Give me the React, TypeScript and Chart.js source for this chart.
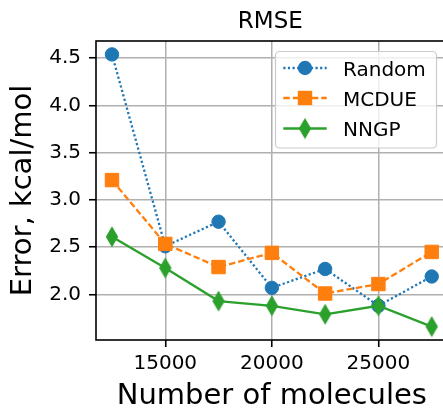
import React, { useEffect, useRef } from 'react';
import { Chart, registerables } from 'chart.js';

Chart.register(...registerables);

// ---- data ----
const xValues = [12500, 15000, 17500, 20000, 22500, 25000, 27500];
const randomErr = [4.54, 2.51, 2.77, 2.07, 2.27, 1.88, 2.19];
const mcdueErr = [3.21, 2.535, 2.29, 2.44, 2.01, 2.11, 2.45];
const nngpErr = [2.61, 2.28, 1.93, 1.88, 1.79, 1.88, 1.66];
const xTicks = [15000, 20000, 25000];
const yTicks = [2.0, 2.5, 3.0, 3.5, 4.0, 4.5];
const seriesNames = ['Random', 'MCDUE', 'NNGP'];
const titleText = 'RMSE';
const xLabel = 'Number of molecules';
const yLabel = 'Error, kcal/mol';

const FONT = '"DejaVu Sans", sans-serif';
const BLUE = '#1f77b4';
const ORANGE = '#ff7f0e';
const GREEN = '#2ca02c';
const LW = 2.3;
const DOT = [2.2, 2.4];
const DASH = [6.5, 3];

function makeDiamond(color: string): HTMLCanvasElement {
  const c = document.createElement('canvas');
  c.width = 14;
  c.height = 22;
  const g = c.getContext('2d')!;
  g.fillStyle = color;
  g.beginPath();
  g.moveTo(7, 0.5);
  g.lineTo(13.2, 11);
  g.lineTo(7, 21.5);
  g.lineTo(0.8, 11);
  g.closePath();
  g.fill();
  return c;
}

export default function App() {
  const ref = useRef<HTMLCanvasElement | null>(null);

  useEffect(() => {
    const canvas = ref.current;
    if (!canvas) return;
    const diamond = makeDiamond(GREEN);

    const legendStyles = [
      { color: BLUE, dash: DOT, marker: 'circle' },
      { color: ORANGE, dash: DASH, marker: 'square' },
      { color: GREEN, dash: [], marker: 'diamond' },
    ];

    const decor = {
      id: 'decor',
      afterDatasetsDraw(chart: any) {
        const { ctx, chartArea: a } = chart;
        ctx.save();
        ctx.strokeStyle = '#000';
        ctx.lineWidth = 1.6;
        ctx.strokeRect(a.left, a.top, a.right - a.left, a.bottom - a.top);
        ctx.restore();
      },
      afterDraw(chart: any) {
        const { ctx, chartArea: a } = chart;
        ctx.save();
        // title
        ctx.fillStyle = '#000';
        ctx.font = `23px ${FONT}`;
        ctx.textAlign = 'center';
        ctx.textBaseline = 'alphabetic';
        ctx.fillText(titleText, (a.left + a.right) / 2 - 1.5, 27.5);

        // legend box
        const bx = 275.5, by = 51.5, bw = 161, bh = 96.5, r = 4;
        ctx.beginPath();
        ctx.moveTo(bx + r, by);
        ctx.lineTo(bx + bw - r, by);
        ctx.arcTo(bx + bw, by, bx + bw, by + r, r);
        ctx.lineTo(bx + bw, by + bh - r);
        ctx.arcTo(bx + bw, by + bh, bx + bw - r, by + bh, r);
        ctx.lineTo(bx + r, by + bh);
        ctx.arcTo(bx, by + bh, bx, by + bh - r, r);
        ctx.lineTo(bx, by + r);
        ctx.arcTo(bx, by, bx + r, by, r);
        ctx.closePath();
        ctx.fillStyle = 'rgba(255,255,255,0.8)';
        ctx.fill();
        ctx.strokeStyle = '#cccccc';
        ctx.lineWidth = 1.2;
        ctx.stroke();

        const rows = [68, 98, 128.5];
        seriesNames.forEach((name, i) => {
          const s = legendStyles[i];
          const y = rows[i];
          ctx.strokeStyle = s.color;
          ctx.lineWidth = LW;
          ctx.setLineDash(s.dash);
          ctx.beginPath();
          ctx.moveTo(283.3, y);
          ctx.lineTo(326.7, y);
          ctx.stroke();
          ctx.setLineDash([]);
          const mx = 305;
          ctx.fillStyle = s.color;
          if (s.marker === 'circle') {
            ctx.beginPath();
            ctx.arc(mx, y, 7.2, 0, Math.PI * 2);
            ctx.fill();
          } else if (s.marker === 'square') {
            ctx.fillRect(mx - 7.2, y - 7.2, 14.4, 14.4);
          } else {
            ctx.drawImage(diamond, mx - 7, y - 11);
          }
          ctx.fillStyle = '#000';
          ctx.font = `20px ${FONT}`;
          ctx.textAlign = 'left';
          ctx.textBaseline = 'alphabetic';
          ctx.fillText(name, 343, y + 7.5);
        });
        ctx.restore();
      },
    };

    const mk = (vals: number[]) => xValues.map((x, i) => ({ x, y: vals[i] }));

    const chart = new Chart(canvas, {
      type: 'line',
      data: {
        datasets: [
          {
            label: seriesNames[0],
            data: mk(randomErr),
            borderColor: BLUE,
            backgroundColor: BLUE,
            borderWidth: LW,
            borderDash: DOT,
            pointStyle: 'circle',
            pointRadius: 6.7,
            pointBorderWidth: 1,
            pointBorderColor: BLUE,
            pointBackgroundColor: BLUE,
            order: 3,
            clip: false as any,
          },
          {
            label: seriesNames[1],
            data: mk(mcdueErr),
            borderColor: ORANGE,
            backgroundColor: ORANGE,
            borderWidth: LW,
            borderDash: DASH,
            pointStyle: 'rect',
            pointRadius: 9.5,
            pointBorderWidth: 1,
            pointBorderColor: ORANGE,
            pointBackgroundColor: ORANGE,
            order: 2,
            clip: false as any,
          },
          {
            label: seriesNames[2],
            data: mk(nngpErr),
            borderColor: GREEN,
            backgroundColor: GREEN,
            borderWidth: LW,
            pointStyle: diamond as any,
            pointRadius: 10,
            order: 1,
            clip: false as any,
          },
        ],
      },
      options: {
        responsive: false,
        animation: false,
        devicePixelRatio: 1,
        events: [],
        layout: { padding: { top: 41, right: 12, left: 0, bottom: 0 } },
        plugins: {
          legend: { display: false },
          title: { display: false },
          tooltip: { enabled: false },
        },
        scales: {
          x: {
            type: 'linear',
            min: 11750,
            max: 28250,
            afterBuildTicks: (s: any) => {
              s.ticks = xTicks.map((v) => ({ value: v }));
            },
            afterFit: (s: any) => {
              s.height = 90;
            },
            ticks: {
              color: '#000',
              font: { family: FONT, size: 20 },
              padding: 5,
              maxRotation: 0,
              autoSkip: false,
              callback: (v: any) => String(v),
            },
            grid: {
              color: '#b0b0b0',
              lineWidth: 1.5,
              tickColor: '#000',
              tickLength: 7,
              tickWidth: 1.6,
            },
            border: { display: false },
            title: {
              display: true,
              text: xLabel,
              color: '#000',
              font: { family: FONT, size: 29, lineHeight: 1.2 },
              padding: { top: 0, bottom: 16.4 },
            },
          },
          y: {
            type: 'linear',
            min: 1.518,
            max: 4.682,
            afterBuildTicks: (s: any) => {
              s.ticks = yTicks.map((v) => ({ value: v }));
            },
            afterFit: (s: any) => {
              s.width = 96;
            },
            ticks: {
              color: '#000',
              font: { family: FONT, size: 20 },
              padding: 8,
              autoSkip: false,
              callback: (v: any) => Number(v).toFixed(1),
            },
            grid: {
              color: '#b0b0b0',
              lineWidth: 1.5,
              tickColor: '#000',
              tickLength: 7,
              tickWidth: 1.6,
            },
            border: { display: false },
            title: {
              display: true,
              text: yLabel,
              color: '#000',
              font: { family: FONT, size: 29, lineHeight: 1.2 },
              padding: { top: 6, bottom: 0 },
            },
          },
        },
      },
      plugins: [decor],
    });

    return () => chart.destroy();
  }, []);

  return (
    <div
      style={{
        position: 'absolute',
        left: 0,
        top: 0,
        width: 443,
        height: 408,
        overflow: 'hidden',
        background: '#fff',
      }}
    >
      <canvas ref={ref} width={460} height={430} style={{ display: 'block', width: 460, height: 430 }} />
    </div>
  );
}
